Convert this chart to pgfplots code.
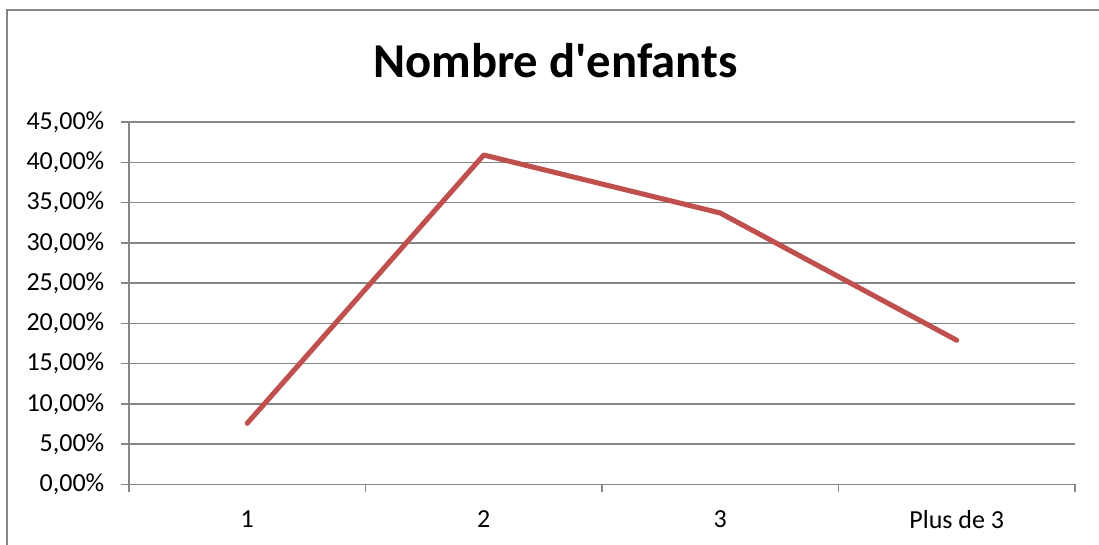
\documentclass[border=0pt]{standalone}
\usepackage{pgfplots}
\pgfplotsset{compat=1.18}
\usepackage{fontspec}
\setmainfont{Carlito}[Ligatures=TeXOff]
\definecolor{grid}{HTML}{868686}
\definecolor{line}{HTML}{C0504D}
\begin{document}
\begin{tikzpicture}[x=0.75pt,y=0.75pt]
\path[use as bounding box] (0,0) rectangle (1099,545);
\draw[grid, line width=1.1pt] (7,0) -- (7,535) -- (1099,535);
\node[font=\fontsize{36.5}{42}\selectfont\bfseries, anchor=base] at (555.5,467) {Nombre d'enfants};
\begin{axis}[
  at={(96.75pt,45.375pt)}, anchor=south west,
  scale only axis, width=709.5pt, height=271.9pt,
  xmin=-0.5, xmax=3.5, ymin=0, ymax=0.45,
  axis lines*=left,
  axis line style={grid, line width=1.1pt},
  tick align=outside,
  xtick={0,1,2,3},
  xticklabels={1,2,3,Plus de 3},
  major x tick style={draw=none},
  minor xtick={-0.5,0.5,1.5,2.5,3.5},
  minor x tick style={grid, line width=1.1pt},
  minor tick length=6pt,
  xmajorgrids=false, xminorgrids=false,
  ytick={0,0.05,0.1,0.15,0.2,0.25,0.3,0.35,0.4,0.45},
  yticklabels={{0,00\%},{5,00\%},{10,00\%},{15,00\%},{20,00\%},{25,00\%},{30,00\%},{35,00\%},{40,00\%},{45,00\%}},
  major y tick style={grid, line width=1.1pt},
  major tick length=6pt,
  ymajorgrids,
  y grid style={grid, line width=1.1pt},
  ticklabel style={font=\fontsize{19.5}{23}\selectfont, text=black},
  xticklabel style={yshift=-10pt},
  yticklabel style={xshift=-9pt},
  clip=false,
]
\addplot[line, line width=3.8pt, line join=round, line cap=round] coordinates {
  (0,0.076) (1,0.409) (2,0.337) (3,0.179)
};
\end{axis}
\end{tikzpicture}
\end{document}
